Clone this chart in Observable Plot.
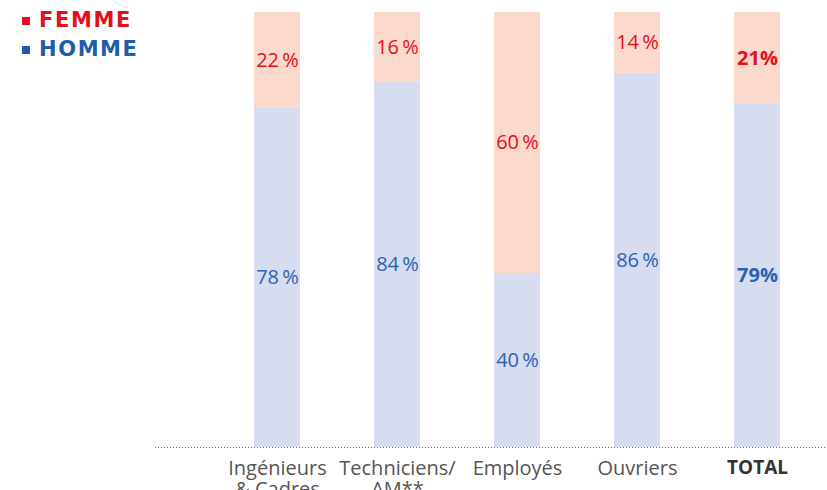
<!DOCTYPE html>
<html>
<head>
<meta charset="utf-8">
<script src="https://cdn.jsdelivr.net/npm/d3@7"></script>
<script src="https://cdn.jsdelivr.net/npm/@observablehq/plot@0.6"></script>
<style>
  html, body { margin: 0; padding: 0; background: #fff; }
  #wrap { position: relative; width: 827px; height: 490px; overflow: hidden; font-family: "Open Sans", sans-serif; }
  #legend { position: absolute; left: 22px; top: 6px; font-family: "DejaVu Sans", sans-serif; font-weight: 700; font-size: 21px; letter-spacing: 1.6px; line-height: 29px; }
  #legend div { display: flex; align-items: center; }
  #legend span.sq { display: inline-block; width: 8px; height: 8px; margin-right: 9px; }
</style>
</head>
<body>
<div id="wrap">
  <div id="legend">
    <div style="color:#E3101C"><span class="sq" style="background:#E3101C"></span>FEMME</div>
    <div style="color:#1E5DAB"><span class="sq" style="background:#1E5DAB"></span>HOMME</div>
  </div>
</div>
<script>
const categories = ["Ingénieurs\n& Cadres", "Techniciens/\nAM**", "Employés", "Ouvriers", "TOTAL"];
const homme = [78, 84, 40, 86, 79];
const femme = [22, 16, 60, 14, 21];
const sexes = ["HOMME", "FEMME"];

const data = [];
categories.forEach((c, i) => {
  data.push({cat: c, sex: "HOMME", value: homme[i]});
  data.push({cat: c, sex: "FEMME", value: femme[i]});
});
const rows = categories.map((c, i) => ({cat: c, h: homme[i], f: femme[i], total: c === "TOTAL"}));
const normalRows = rows.filter(d => !d.total);
const totalRows = rows.filter(d => d.total);
const pct = v => v + "\u2009%";
const BLUE = "#2A62B0", RED = "#E3101C";

const chart = Plot.plot({
  width: 827,
  height: 490,
  marginTop: 12,
  marginBottom: 43,
  marginLeft: 155,
  marginRight: 0,
  style: {fontFamily: "'Open Sans', sans-serif", background: "transparent"},
  x: {type: "band", domain: categories, range: [253, 781], paddingInner: 0.618, paddingOuter: 0, axis: null},
  y: {domain: [0, 100], axis: null},
  color: {domain: sexes, range: ["#D8DCF0", "#FBD9CD"]},
  marks: [
    Plot.barY(data, Plot.stackY({x: "cat", y: "value", z: "sex", fill: "sex"})),
    Plot.ruleY([0], {stroke: "#666", strokeDasharray: "1,2", strokeWidth: 1}),
    Plot.text(normalRows, {x: "cat", y: d => d.h / 2, text: d => pct(d.h), fill: BLUE, fontSize: 20, letterSpacing: 0.5}),
    Plot.text(normalRows, {x: "cat", y: d => d.h + d.f / 2, text: d => pct(d.f), fill: RED, fontSize: 20, letterSpacing: 0.5}),
    Plot.text(totalRows, {x: "cat", y: d => d.h / 2, text: d => d.h + "%", fill: BLUE, fontSize: 20, fontWeight: "bold"}),
    Plot.text(totalRows, {x: "cat", y: d => d.h + d.f / 2, text: d => d.f + "%", fill: RED, fontSize: 20, fontWeight: "bold"}),
    Plot.text(categories.filter(c => c !== "TOTAL"), {x: d => d, frameAnchor: "bottom", dy: 13, lineAnchor: "top", lineHeight: 1.05, text: d => d, fill: "#555", fontSize: 20}),
    Plot.text(["TOTAL"], {x: d => d, frameAnchor: "bottom", dy: 13, lineAnchor: "top", text: d => d, fill: "#333", fontSize: 19, fontWeight: "bold", letterSpacing: 0.5})
  ]
});
document.getElementById("wrap").prepend(chart);
chart.style.position = "absolute";
chart.style.left = "0";
chart.style.top = "0";
</script>
</body>
</html>
